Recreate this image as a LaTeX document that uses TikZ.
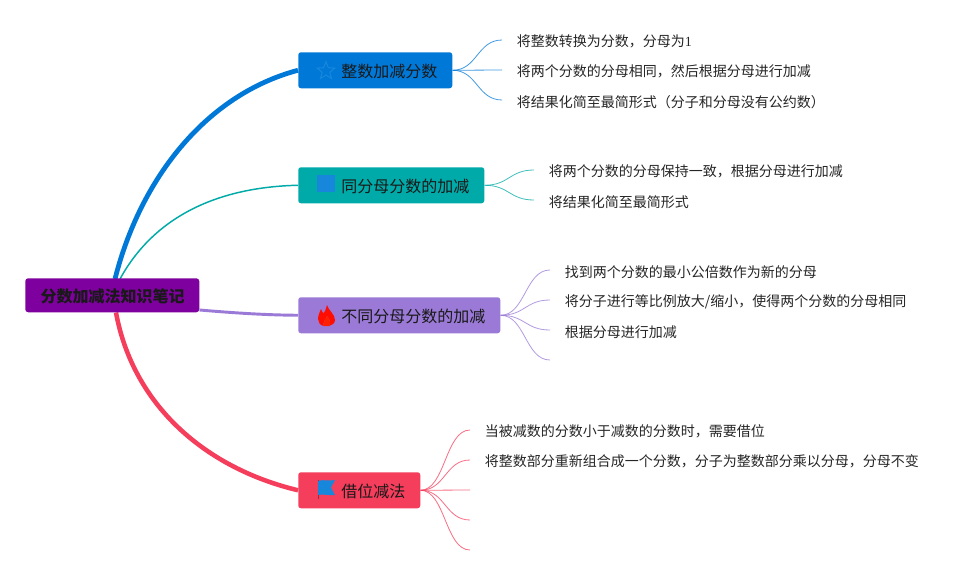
\documentclass[tikz,border=0pt]{standalone}
\usepackage{fontspec}
\setmainfont{Noto Sans CJK SC}
\usetikzlibrary{shapes.geometric,calc,backgrounds}
\definecolor{cblue}{HTML}{0078D7}
\definecolor{cteal}{HTML}{00AAA8}
\definecolor{cpurple}{HTML}{9A7AD6}
\definecolor{cred}{HTML}{F53D5C}
\definecolor{croot}{HTML}{7E009E}
\definecolor{cicon}{HTML}{1787DC}
\tikzset{
  x=0.75pt,y=-0.75pt,
  rootbox/.style={fill=croot,rounded corners=2.2pt,inner sep=0,anchor=north west,minimum width=130.5pt,minimum height=25.5pt,font=\fontsize{12}{14}\selectfont\bfseries,text=black!90},
  branchbox/.style={rounded corners=2pt,inner sep=0,anchor=north west,minimum height=27pt},
  branchtext/.style={anchor=west,inner sep=0,font=\fontsize{12}{14}\selectfont,text=black!90},
  leaftext/.style={anchor=west,inner sep=0,font=\fontsize{10.5}{13}\selectfont,text=black!85},
  leafline/.style={line width=0.6pt,opacity=.75},
}
\newcommand{\leafcurve}[3]{\draw[leafline,draw=#1] (#2.east) .. controls ($(#2.east)!0.5!(#2.east -| #3)$) and ($(#3)!0.5!(#3 -| #2.east)$) .. (#3);}
\begin{document}
\begin{tikzpicture}
\useasboundingbox (0,0) rectangle (979,575);
% boxes
\node[rootbox] (root) at (25,278) {};
\node[branchbox,fill=cblue,minimum width=115.5pt] (b1) at (298,52) {};
\node[branchbox,fill=cteal,minimum width=139.5pt] (b2) at (298,167) {};
\node[branchbox,fill=cpurple,minimum width=151.5pt] (b3) at (298,297) {};
\node[branchbox,fill=cred,minimum width=91.5pt] (b4) at (298,472) {};
% main connectors
\begin{scope}[on background layer]
\fill[white] (0,0) rectangle (979,575);
\coordinate (sblue) at ($(root.north west)+(90,1)$);
\coordinate (steal) at ($(root.north west)+(95,1)$);
\coordinate (spurple) at ($(root.north east)+(0,32)$);
\coordinate (sred) at ($(root.south west)+(91,0)$);
\draw[cblue,line width=3.6pt] (sblue) .. controls (140,180) and (205,95) .. (b1.west);
\draw[cteal,line width=1.1pt] (steal) .. controls (155,215) and (220,187) .. (b2.west);
\draw[cpurple,line width=2.2pt] (spurple) .. controls (235,313) and (265,315) .. (b3.west);
\draw[cred,line width=3.4pt] (sred) .. controls (133,405) and (205,468) .. (b4.west);
\end{scope}
\node[anchor=center,inner sep=0,font=\fontsize{12}{14}\selectfont\bfseries,text=black!90] (roott) at (112.5,296) {分数加减法知识笔记};
% branch text
\node[branchtext] (t1) at (341,71.5) {整数加减分数};
\node[branchtext] (t2) at (341,186.5) {同分母分数的加减};
\node[branchtext] (t3) at (341,316.5) {不同分母分数的加减};
\node[branchtext] (t4) at (341,491.5) {借位减法};
% icons
\node[star,star points=5,star point ratio=2.3,draw=cicon,line width=0.8pt,minimum size=14pt,inner sep=0] (i1) at (326,71) {};
\fill[cicon] (317,175) rectangle (335,192);
\fill[red!90!orange] (327,305) .. controls (328,310) and (335,314) .. (335,320) .. controls (335,323) and (332,325.5) .. (329,326) .. controls (331,323) and (330,319) .. (327,316) .. controls (326,319) and (323,321) .. (323.5,326) .. controls (320,325) and (318,322) .. (318,319) .. controls (318,315) and (320,312) .. (321,309) .. controls (322,312) and (323,313) .. (324,313) .. controls (325,311) and (326.5,308) .. (327,305) -- cycle;
\fill[red!75!orange] (327,316) .. controls (330,319) and (331,323) .. (329,326) -- (323.5,326) .. controls (323,321) and (326,319) .. (327,316) -- cycle;
\draw[black!35!cred,line width=0.6pt] (318,480) -- (318,499);
\fill[cicon] (318,481) .. controls (323,479) and (329,481.5) .. (335,480) -- (331,487.5) -- (335,495) .. controls (329,496) and (323,493.5) .. (318,495) -- cycle;
% leaf texts
\node[leaftext] (l11) at (516.5,41.7) {将整数转换为分数，分母为{\setmainfont{Liberation Serif}1}};
\node[leaftext] (l12) at (516.5,71.7) {将两个分数的分母相同，然后根据分母进行加减};
\node[leaftext] (l13) at (516.5,101.7) {将结果化简至最简形式（分子和分母没有公约数）};
\node[leaftext] (l21) at (548.5,171.7) {将两个分数的分母保持一致，根据分母进行加减};
\node[leaftext] (l22) at (548.5,201.7) {将结果化简至最简形式};
\node[leaftext] (l31) at (564.5,271.7) {找到两个分数的最小公倍数作为新的分母};
\node[leaftext] (l32) at (564.5,301.7) {将分子进行等比例放大/缩小，使得两个分数的分母相同};
\node[leaftext] (l33) at (564.5,331.7) {根据分母进行加减};
\node[leaftext] (l41) at (484.5,431.7) {当被减数的分数小于减数的分数时，需要借位};
\node[leaftext] (l42) at (484.5,461.7) {将整数部分重新组合成一个分数，分子为整数部分乘以分母，分母不变};
% leaf ends
\coordinate (e11) at (502,40); \coordinate (e12) at (502,70); \coordinate (e13) at (502,100);
\coordinate (e21) at (534,170); \coordinate (e22) at (534,200);
\coordinate (e31) at (550,270); \coordinate (e32) at (550,300); \coordinate (e33) at (550,330); \coordinate (e34) at (550,360);
\coordinate (e41) at (470,430); \coordinate (e42) at (470,460); \coordinate (e43) at (470,490); \coordinate (e44) at (470,520); \coordinate (e45) at (470,550);
\foreach \e in {e11,e12,e13} {\leafcurve{cblue}{b1}{\e}}
\foreach \e in {e21,e22} {\leafcurve{cteal}{b2}{\e}}
\foreach \e in {e31,e32,e33,e34} {\leafcurve{cpurple}{b3}{\e}}
\foreach \e in {e41,e42,e43,e44,e45} {\leafcurve{cred}{b4}{\e}}
\end{tikzpicture}
\end{document}
